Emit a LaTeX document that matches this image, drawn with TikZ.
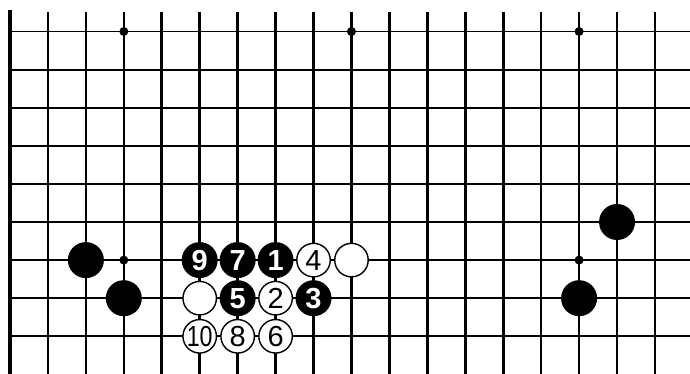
\documentclass[tikz,border=0pt]{standalone}
\usepackage{fontspec}
\setmainfont{Liberation Sans}
\begin{document}
\begin{tikzpicture}[x=37.94pt, y=-38.1pt,
  vline/.style={line width=2.6pt},
  hline/.style={line width=1.9pt},
  edge/.style={line width=3.4pt},
  star/.style={circle,fill=black,minimum size=9pt,inner sep=0pt},
  bstone/.style={circle,fill=black,minimum size=36pt,inner sep=0pt,text=white,font=\fontsize{29}{29}\selectfont\bfseries},
  wstone/.style={circle,draw=black,line width=1.4pt,fill=white,minimum size=33.5pt,inner sep=0pt,font=\fontsize{29}{29}\selectfont}]
\useasboundingbox (-10pt,31.5pt) rectangle (680pt,-342.5pt);
% grid
\foreach \r in {0,...,8} \draw[hline] (0,\r) -- (17.923,\r);
\foreach \c in {1,...,17} \draw[vline] (\c,-0.512) -- (\c,8.99);
\draw[edge] (0,-0.564) -- (0,8.99);
% star points
\foreach \c/\r [count=\i] in {3/0,9/0,15/0,3/6,15/6} \node[star] (st\i) at (\c,\r) {};
% corner stones
\node[bstone] (bL1) at (2,6) {};
\node[bstone] (bL2) at (3,7) {};
\node[bstone] (bR1) at (16,5) {};
\node[bstone] (bR2) at (15,7) {};
% sequence
\node[bstone] (m1) at (7,6) {1};
\node[wstone] (m2) at (7,7) {2};
\node[bstone] (m3) at (8,7) {3};
\node[wstone] (m4) at (8,6) {4};
\node[bstone] (m5) at (6,7) {5};
\node[wstone] (m6) at (7,8) {6};
\node[bstone] (m7) at (6,6) {7};
\node[wstone] (m8) at (6,8) {8};
\node[bstone] (m9) at (5,6) {9};
\node[wstone] (m10) at (5,8) {\scalebox{0.8}[1]{10}};
\node[wstone] (wA) at (5,7) {};
\node[wstone] (wB) at (9,6) {};
\end{tikzpicture}
\end{document}
